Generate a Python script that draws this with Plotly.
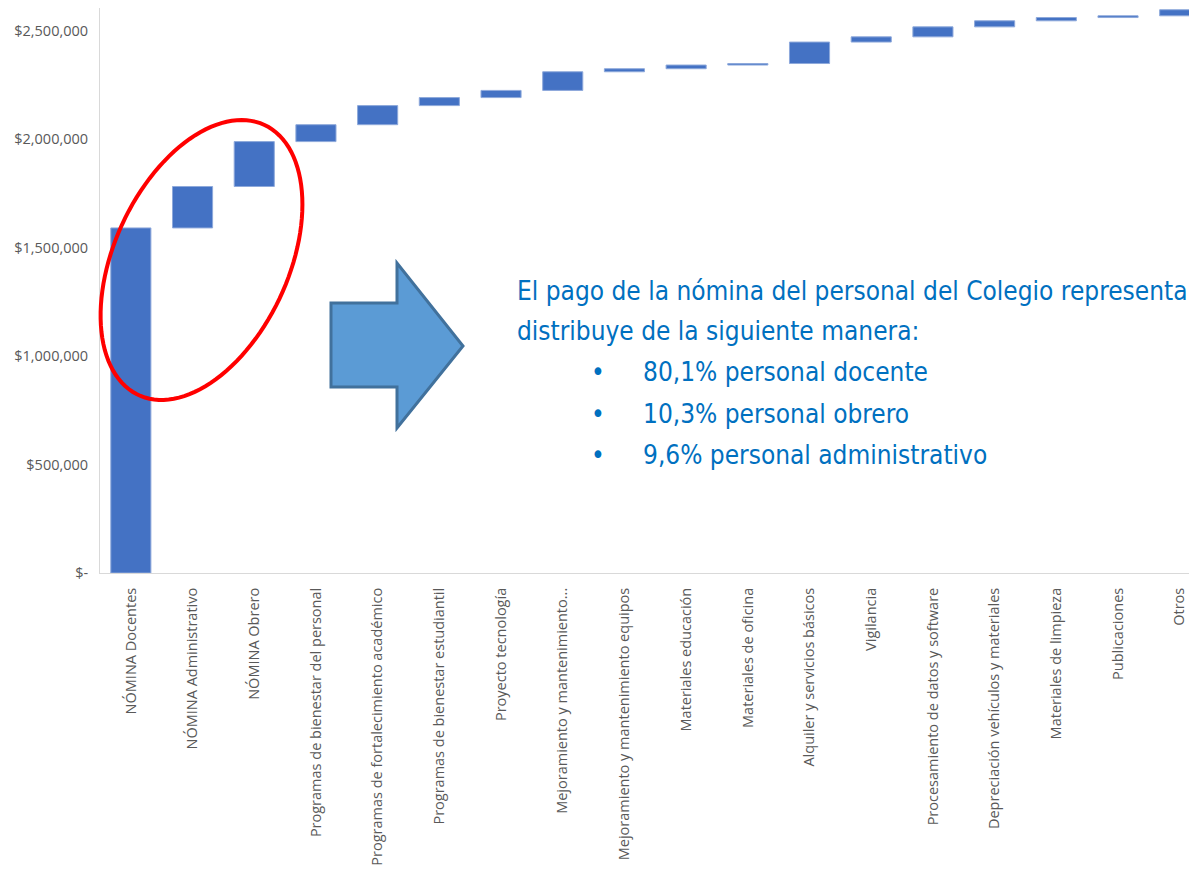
import numpy as np
import plotly.graph_objects as go

categories = [
    "NÓMINA Docentes", "NÓMINA Administrativo", "NÓMINA Obrero",
    "Programas de bienestar del personal", "Programas de fortalecimiento académico",
    "Programas de bienestar estudiantil", "Proyecto tecnología",
    "Mejoramiento y mantenimiento...", "Mejoramiento y mantenimiento equipos",
    "Materiales educación", "Materiales de oficina", "Alquiler y servicios básicos",
    "Vigilancia", "Procesamiento de datos y software", "Depreciación vehículos y materiales",
    "Materiales de limpieza", "Publicaciones", "Otros",
]
amounts = [
    1591000, 191000, 207000, 78000, 88000, 37000, 33000, 86000, 14000,
    17000, 7000, 99000, 24000, 46000, 28000, 15000, 8000, 28000,
]
ytick_vals = [0, 500000, 1000000, 1500000, 2000000, 2500000]
ytick_text = ["$-", "$500,000", "$1,000,000", "$1,500,000", "$2,000,000", "$2,500,000"]

text_lines = [
    "El pago de la nómina del personal del Colegio representa",
    "distribuye de la siguiente manera:",
]
bullets = [
    "80,1% personal docente",
    "10,3% personal obrero",
    "9,6% personal administrativo",
]

# page body has an 8px margin; lay the figure out in window pixels minus that offset
OFF = 8
W, H = 1197 - OFF, 885 - 2 * OFF
PLOT_LEFT, PLOT_TOP, PLOT_BOTTOM = 100, 8, 573          # in window pixels
L = PLOT_LEFT - OFF
T = PLOT_TOP - OFF
B = H - (PLOT_BOTTOM - OFF)
R = 0
PW, PH = W - L - R, H - T - B


def px(x):
    return (x - OFF - L) / PW


def py(y):
    return (H - B - (y - OFF)) / PH


fig = go.Figure()
fig.add_trace(go.Waterfall(
    x=categories,
    y=amounts,
    measure=["relative"] * len(amounts),
    increasing=dict(marker=dict(color="#4472C4", line=dict(color="#8EA9DB", width=1))),
    connector=dict(visible=False),
    width=0.65,
    hoverinfo="x+y",
))

# tilted red ellipse (decoration)
cx, cy, a, b, th = 201.5, 260.0, 149.0, 87.0, np.deg2rad(65.0)
t = np.linspace(0, 2 * np.pi, 120)
ex = cx + a * np.cos(t) * np.cos(th) + b * np.sin(t) * np.sin(th)
ey = cy - a * np.cos(t) * np.sin(th) + b * np.sin(t) * np.cos(th)
path = "M " + " L ".join(f"{px(x):.5f},{py(y):.5f}" for x, y in zip(ex, ey)) + " Z"

# block arrow (decoration)
arrow_px = [(331, 303), (397, 303), (397, 263), (463, 346), (397, 428), (397, 387), (331, 387)]
apath = "M " + " L ".join(f"{px(x):.5f},{py(y):.5f}" for x, y in arrow_px) + " Z"

shapes = [
    dict(type="path", path=apath, xref="paper", yref="paper",
         fillcolor="#5B9BD5", line=dict(color="#41719C", width=3), layer="above"),
    dict(type="path", path=path, xref="paper", yref="paper",
         line=dict(color="#FF0000", width=4), layer="above"),
]

blue = "#0070C0"
tfont = dict(family="DejaVu Sans Condensed, DejaVu Sans", size=26, color=blue)
annotations = []
for i, line in enumerate(text_lines):
    annotations.append(dict(x=px(515), y=py(291 + 40 * i), xref="paper", yref="paper",
                            text=line, showarrow=False, xanchor="left", yanchor="middle",
                            font=tfont))
for i, line in enumerate(bullets):
    yy = py(372 + 41.5 * i)
    annotations.append(dict(x=px(598), y=yy, xref="paper", yref="paper", text="•",
                            showarrow=False, xanchor="center", yanchor="middle", font=tfont))
    annotations.append(dict(x=px(641), y=yy, xref="paper", yref="paper", text=line,
                            showarrow=False, xanchor="left", yanchor="middle", font=tfont))

fig.update_layout(
    width=W, height=H,
    margin=dict(l=L, r=R, t=T, b=B, pad=0),
    paper_bgcolor="white", plot_bgcolor="white",
    showlegend=False,
    shapes=shapes,
    annotations=annotations,
    font=dict(family="Open Sans", color="#595959"),
    xaxis=dict(
        type="category", range=[-0.5, 17.28], tickangle=-90,
        showgrid=False, showline=True, linecolor="#D9D9D9", linewidth=1,
        ticks="", tickfont=dict(size=14.5, color="#595959", family="Open Sans"),
        ticklabelstandoff=8,
    ),
    yaxis=dict(
        range=[0, 2605000], tickvals=ytick_vals, ticktext=ytick_text,
        showgrid=False, zeroline=False, showline=True, linecolor="#D9D9D9", linewidth=1,
        ticks="", tickfont=dict(size=14.5, color="#595959", family="Open Sans"),
        ticklabelstandoff=8,
    ),
)

fig.write_html("out.html")
